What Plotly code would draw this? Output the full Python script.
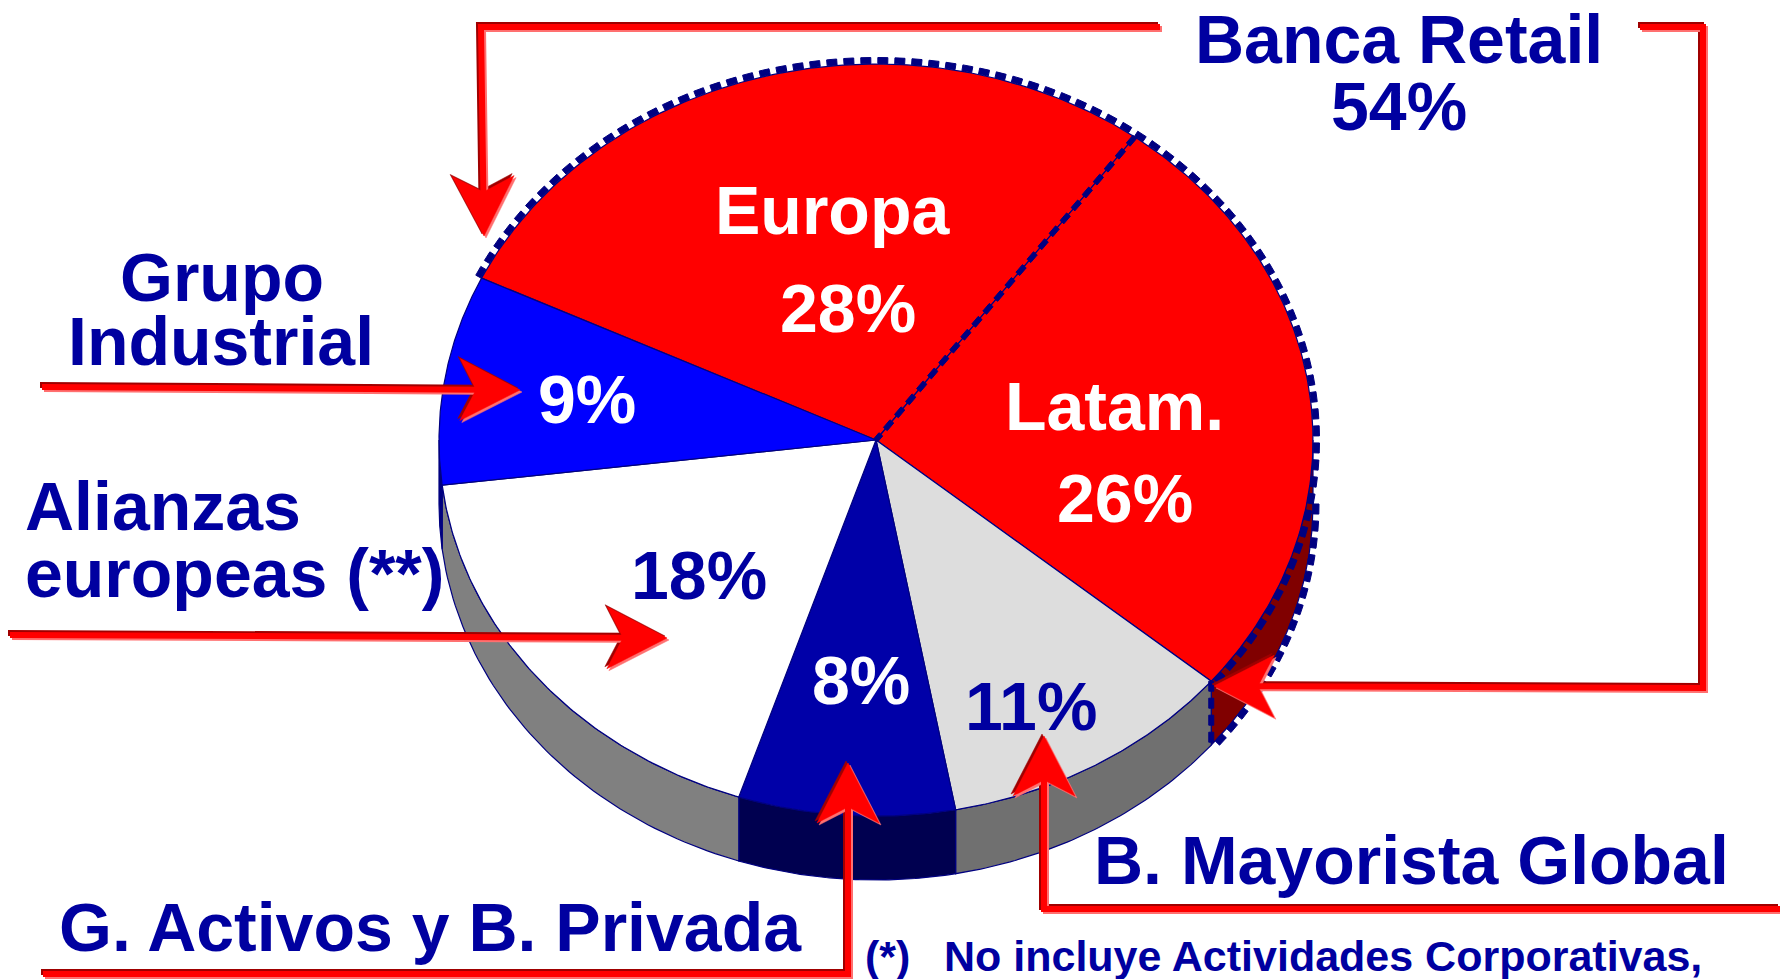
import numpy as np
import plotly.graph_objects as go

# ---------------- data ----------------
segments = ["Europa", "Latam.", "B. Mayorista Global", "G. Activos y B. Privada",
            "Alianzas europeas (**)", "Grupo Industrial"]
shares = [28, 26, 11, 8, 18, 9]
share_text = ["28%", "26%", "11%", "8%", "18%", "9%"]
group_label = "Banca Retail"
group_members = ["Europa", "Latam."]
footnote_mark = "(*)"
footnote_text = "No incluye Actividades Corporativas,"

# ---------------- styles / layout ----------------
W, H = 1780, 979
CX, CY, RX, RY, DEPTH = 876, 440, 437, 376, 64
START = 154.5
NAVY = "#0000A0"
FONT = "Liberation Sans, Arial, Helvetica, sans-serif"
top_colors = ["#FF0000", "#FF0000", "#DDDDDD", "#0000A8", "#FFFFFF", "#0000FF"]
side_colors = ["#800000", "#800000", "#707070", "#000050", "#808080", "#000080"]
label_colors = ["white", "white", NAVY, "white", NAVY, "white"]

fig = go.Figure()


def pt(t_deg, dz=0.0, dr=0.0):
    t = np.radians(t_deg)
    return CX + (RX + dr) * np.cos(t), CY - (RY + dr) * np.sin(t) + dz


def poly(xs, ys, fill, line_color=None, lw=0):
    fig.add_trace(go.Scatter(
        x=list(xs), y=list(ys), mode="lines", fill="toself", fillcolor=fill,
        line=dict(color=line_color or fill, width=lw), hoverinfo="skip",
        showlegend=False))


def line(xs, ys, color, width):
    fig.add_trace(go.Scatter(
        x=list(xs), y=list(ys), mode="lines",
        line=dict(color=color, width=width),
        hoverinfo="skip", showlegend=False))


def dashed(xs, ys, color, width, on=10, off=7):
    """Dashes drawn as small filled quads along a polyline."""
    xs, ys = np.asarray(xs, float), np.asarray(ys, float)
    seg = np.hypot(np.diff(xs), np.diff(ys))
    s = np.r_[0, np.cumsum(seg)]
    total = s[-1]
    outx, outy = [], []
    pos = 0.0
    hw = width / 2.0
    while pos < total:
        a, b = pos, min(pos + on, total)
        ss = np.r_[a, s[(s > a) & (s < b)], b]
        px, py = np.interp(ss, s, xs), np.interp(ss, s, ys)
        if len(px) >= 2:
            dx, dy = np.gradient(px), np.gradient(py)
            nn = np.hypot(dx, dy)
            nn[nn == 0] = 1
            nx, ny = -dy / nn * hw, dx / nn * hw
            qx = list(px + nx) + list((px - nx)[::-1])
            qy = list(py + ny) + list((py - ny)[::-1])
            outx += qx + [qx[0], None]
            outy += qy + [qy[0], None]
        pos += on + off
    fig.add_trace(go.Scatter(
        x=outx, y=outy, mode="lines", fill="toself", fillcolor=color,
        line=dict(color=color, width=1), hoverinfo="skip", showlegend=False))


# slice boundaries (parametric ellipse angles, clockwise)
bounds = [START]
for s in shares:
    bounds.append(bounds[-1] - s * 3.6)

# ---- side walls (visible lower half) ----
for i in range(len(shares)):
    hi, lo = bounds[i], bounds[i + 1]
    for off in (0, -360):
        a0, a1 = min(hi + off, 0), max(lo + off, -180)
        if a0 > a1:
            ts = np.linspace(a0, a1, 60)
            tx, ty = pt(ts)
            bx, by = pt(ts[::-1], DEPTH)
            poly(np.r_[tx, bx, tx[:1]], np.r_[ty, by, ty[:1]],
                 side_colors[i], "#000080", 1.2)

# ---- top faces ----
for i in range(len(shares)):
    ts = np.linspace(bounds[i], bounds[i + 1], 120)
    ax, ay = pt(ts)
    poly(np.r_[CX, ax, CX], np.r_[CY, ay, CY], top_colors[i], "#000080", 1.2)

# ---- dashed outline around the Banca Retail group ----
OUT = "#000080"
gi = [segments.index(m) for m in group_members]
g_hi, g_lo = bounds[min(gi)], bounds[max(gi) + 1]
ts = np.linspace(g_hi, g_lo, 600)
ox, oy = pt(ts, dr=3.5)
dashed(ox, oy, OUT, 6)
ts2 = np.linspace(0, g_lo, 200)
bx, by = pt(ts2, DEPTH, dr=3)
dashed(bx, by, OUT, 6)
cx0, cy0 = pt(g_lo)
dashed([cx0, cx0], [cy0, cy0 + DEPTH], OUT, 5)
for b in bounds[min(gi) + 1:max(gi) + 1]:
    ex, ey = pt(b)
    dashed(np.linspace(ex, CX, 50), np.linspace(ey, CY, 50), OUT, 5)

# ---------------- arrows ----------------
AL, AW, AN = 60, 31, 44


def arrow(path):
    path = [np.array(p, dtype=float) for p in path]
    tip, prev = path[-1], path[-2]
    d = (tip - prev) / np.linalg.norm(tip - prev)
    n = np.array([-d[1], d[0]])
    head = [tip, tip - AL * d + AW * n, tip - AN * d, tip - AL * d - AW * n, tip]
    body = path[:-1] + [tip - (AN - 6) * d]
    for off, col in (((-2, -2), "#A00000"), ((2, 2), "#FF7070"), ((0, 0), "#FF0000")):
        o = np.array(off)
        line([p[0] + o[0] for p in body], [p[1] + o[1] for p in body], col, 6)
        poly([p[0] + o[0] for p in head], [p[1] + o[1] for p in head], col, col, 0.5)


arrow([(1160, 27), (481, 27), (484, 236)])
arrow([(1640, 27), (1703, 27), (1703, 688), (1214, 686)])
arrow([(42, 387), (520, 390)])
arrow([(10, 635), (667, 638)])
arrow([(43, 974), (848, 974), (848, 763)])
arrow([(1780, 909), (1044, 909), (1044, 736)])

# ---------------- text ----------------
ann = []


def txt(x, y, s, size=68, color=NAVY, xanchor="center"):
    ann.append(dict(x=x, y=y, xref="x", yref="y", text=s, showarrow=False,
                    xanchor=xanchor, yanchor="middle",
                    font=dict(family=FONT, size=size, color=color, weight="bold")))


group_total = sum(shares[i] for i in gi)
txt(1399, 39, group_label)
txt(1399, 106, f"{group_total}%")
txt(832, 210, segments[0], color="white")
txt(848, 308, share_text[0], color="white")
txt(1114, 406, segments[1], color="white")
txt(1125, 498, share_text[1], color="white")
txt(587, 399, share_text[5], color=label_colors[5])
txt(699, 575, share_text[4], color=label_colors[4])
txt(861, 680, share_text[3], color=label_colors[3])
txt(1031, 706, share_text[2], color=label_colors[2])
txt(222, 277, "Grupo")
txt(221, 341, "Industrial")
txt(23, 506, "Alianzas", xanchor="left")
txt(23, 573, "europeas (**)", xanchor="left")
txt(1092, 860, segments[2], xanchor="left")
txt(57, 927, segments[3], xanchor="left")
txt(863, 956, footnote_mark, size=43, xanchor="left")
txt(942, 956, footnote_text, size=43, xanchor="left")

fig.update_layout(
    width=W, height=H, margin=dict(l=0, r=0, t=0, b=0),
    paper_bgcolor="white", plot_bgcolor="white",
    xaxis=dict(range=[0, W], visible=False, fixedrange=True),
    yaxis=dict(range=[H, 0], visible=False, fixedrange=True),
    annotations=ann, showlegend=False,
)

fig.write_html("out.html", config={"displayModeBar": False},
               post_script="document.body.style.margin='0';document.body.style.overflow='hidden';")
